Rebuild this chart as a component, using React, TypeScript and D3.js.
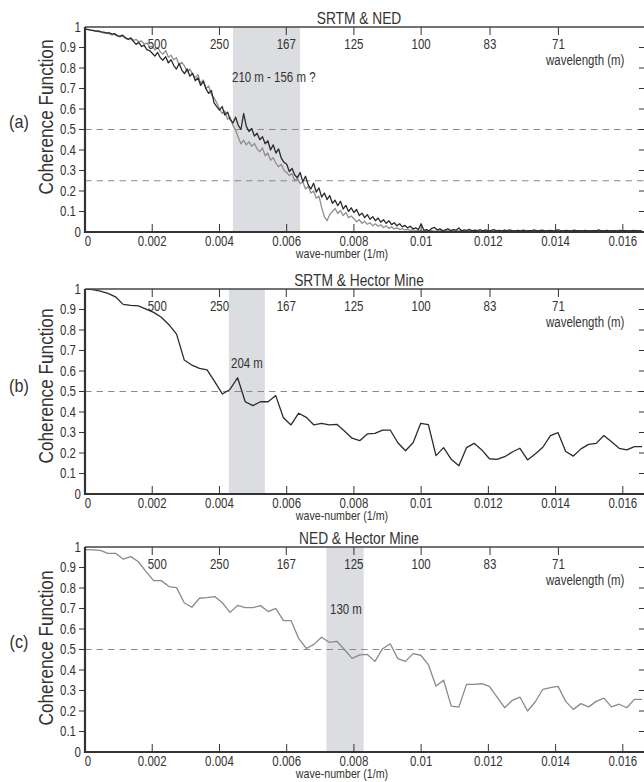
import * as d3 from 'd3';

// wave-number sampling (1/m)
const stepNed = 0.00008;
const stepHector = 0.000227;

// (a) SRTM & NED, two coherence estimates
const srtmNedDark = [
  0.99, 0.988, 0.985, 0.984, 0.98, 0.981, 0.976, 0.975, 0.97, 0.972, 0.965, 0.968, 0.958, 0.955, 0.96, 0.948, 0.94, 0.945, 0.93, 0.915, 0.925, 0.905, 0.91, 0.89, 0.885,
  0.872, 0.858, 0.876, 0.85, 0.838, 0.855, 0.825, 0.84, 0.812, 0.795, 0.822, 0.79, 0.772, 0.796, 0.76, 0.775, 0.738, 0.752, 0.715, 0.735, 0.698, 0.676, 0.69, 0.63, 0.612,
  0.595, 0.612, 0.57, 0.585, 0.548, 0.532, 0.56, 0.52, 0.5, 0.578, 0.515, 0.49, 0.505, 0.468, 0.482, 0.45, 0.465, 0.43, 0.445, 0.4, 0.425, 0.385, 0.405, 0.36, 0.34,
  0.33, 0.295, 0.31, 0.278, 0.265, 0.29, 0.245, 0.272, 0.23, 0.21, 0.238, 0.195, 0.215, 0.17, 0.19, 0.158, 0.178, 0.14, 0.155, 0.128, 0.15, 0.112, 0.13, 0.1, 0.118,
  0.095, 0.11, 0.08, 0.092, 0.07, 0.085, 0.062, 0.075, 0.055, 0.068, 0.048, 0.06, 0.042, 0.055, 0.036, 0.045, 0.03, 0.04, 0.025, 0.032, 0.02, 0.028, 0.015, 0.02, 0.012,
  0.04, 0.008, 0.012, 0.006, 0.018, 0.022, 0.01, 0.016, 0.006, 0.01, 0.015, 0.007, 0.012, 0.009, 0.02, 0.006, 0.01, 0.008, 0.013, 0.005,
  0.009, 0.007, 0.011, 0.006, 0.01, 0.005, 0.008, 0.012, 0.006, 0.008, 0.005, 0.009, 0.007, 0.01, 0.006, 0.005, 0.008, 0.006, 0.009, 0.005,
  0.007, 0.006, 0.01, 0.005, 0.007, 0.009, 0.005, 0.006, 0.008, 0.005, 0.007, 0.011, 0.006, 0.005, 0.008, 0.006, 0.005, 0.009, 0.006, 0.007,
  0.005, 0.008, 0.006, 0.005, 0.007, 0.006, 0.01, 0.005, 0.006, 0.008, 0.005, 0.007, 0.006, 0.005, 0.008, 0.006, 0.007, 0.005, 0.006, 0.008, 0.006, 0.005, 0.007,
];
const srtmNedGray = [
  0.99, 0.987, 0.986, 0.982, 0.98, 0.977, 0.975, 0.97, 0.972, 0.966, 0.962, 0.964, 0.956, 0.952, 0.955, 0.946, 0.94, 0.948, 0.935, 0.94, 0.928, 0.932, 0.915, 0.922, 0.905,
  0.905, 0.888, 0.9, 0.878, 0.868, 0.885, 0.852, 0.862, 0.84, 0.85, 0.815, 0.828, 0.81, 0.78, 0.795, 0.77, 0.752, 0.768, 0.725, 0.742, 0.7, 0.712, 0.67, 0.655, 0.63,
  0.6, 0.578, 0.59, 0.55, 0.56, 0.52, 0.498, 0.462, 0.43, 0.448, 0.425, 0.44, 0.418, 0.432, 0.405, 0.392, 0.41, 0.372, 0.385, 0.35, 0.362, 0.335, 0.318, 0.33, 0.3,
  0.29, 0.275, 0.285, 0.25, 0.262, 0.235, 0.245, 0.21, 0.222, 0.19, 0.2, 0.165, 0.175, 0.12, 0.075, 0.055, 0.085, 0.1, 0.115, 0.09, 0.105, 0.08, 0.095, 0.07, 0.078,
  0.065, 0.05, 0.06, 0.042, 0.052, 0.038, 0.045, 0.03, 0.04, 0.028, 0.035, 0.022, 0.03, 0.018, 0.025, 0.015, 0.02, 0.012, 0.016, 0.01, 0.013, 0.008, 0.011, 0.006, 0.008,
  0.006, 0.004, 0.008, 0.005, 0.007, 0.004, 0.006, 0.009, 0.004, 0.006, 0.005, 0.007, 0.004, 0.006, 0.005, 0.008, 0.004, 0.005, 0.007, 0.004,
  0.006, 0.005, 0.004, 0.007, 0.005, 0.006, 0.004, 0.005, 0.008, 0.004, 0.006, 0.005, 0.004, 0.007, 0.005, 0.004, 0.006, 0.005, 0.007, 0.004,
  0.005, 0.006, 0.004, 0.008, 0.005, 0.004, 0.006, 0.005, 0.004, 0.007, 0.005, 0.006, 0.004, 0.005, 0.007, 0.004, 0.006, 0.005, 0.004, 0.006,
  0.005, 0.007, 0.004, 0.005, 0.006, 0.004, 0.005, 0.007, 0.004, 0.006, 0.005, 0.004, 0.006, 0.005, 0.007, 0.004, 0.005, 0.006, 0.004, 0.005, 0.006, 0.004, 0.005,
];

// (b) SRTM & Hector Mine
const srtmHector = [
  1.0, 0.997, 0.99, 0.979, 0.962, 0.925, 0.92, 0.918, 0.902, 0.886, 0.862, 0.826, 0.78, 0.654, 0.629, 0.613, 0.605, 0.548, 0.488, 0.51,
  0.567, 0.45, 0.431, 0.45, 0.45, 0.48, 0.372, 0.337, 0.394, 0.374, 0.337, 0.345, 0.337, 0.34, 0.307, 0.272, 0.26, 0.293, 0.296, 0.312,
  0.312, 0.25, 0.211, 0.25, 0.345, 0.338, 0.187, 0.226, 0.169, 0.138, 0.226, 0.247, 0.215, 0.172, 0.169, 0.182, 0.205, 0.223, 0.166, 0.195,
  0.228, 0.285, 0.299, 0.207, 0.185, 0.22, 0.242, 0.247, 0.285, 0.255, 0.223, 0.215, 0.231, 0.231,
];

// (c) NED & Hector Mine
const nedHector = [
  0.987, 0.986, 0.984, 0.969, 0.969, 0.941, 0.953, 0.928, 0.88, 0.836, 0.836, 0.807, 0.802, 0.728, 0.706, 0.75, 0.753, 0.758, 0.728, 0.681,
  0.715, 0.704, 0.704, 0.714, 0.685, 0.701, 0.641, 0.641, 0.554, 0.505, 0.525, 0.56, 0.535, 0.54, 0.5, 0.457, 0.474, 0.476, 0.442, 0.504,
  0.528, 0.455, 0.442, 0.48, 0.472, 0.426, 0.322, 0.35, 0.224, 0.219, 0.33, 0.33, 0.333, 0.32, 0.268, 0.216, 0.252, 0.268, 0.2, 0.244,
  0.306, 0.314, 0.32, 0.247, 0.208, 0.236, 0.22, 0.247, 0.263, 0.22, 0.233, 0.216, 0.257, 0.257,
];

const waveNumberTicks = [0, 0.002, 0.004, 0.006, 0.008, 0.01, 0.012, 0.014, 0.016];
const wavelengthTicks = [500, 250, 167, 125, 100, 83, 71];
const coherenceTicks = [0, 0.1, 0.2, 0.3, 0.4, 0.5, 0.6, 0.7, 0.8, 0.9, 1];

const bandA = [0.0044, 0.0064];
const bandB = [0.00428, 0.00535];
const bandC = [0.00718, 0.00829];

const FONT = "'Liberation Sans', Arial, Helvetica, sans-serif";
const INK = '#333';
const W = 644;
const H = 782;
const left = 85;
const right = 644;
const plotH = 205;
const maxK = 0.01663;

const panels = [
  {
    id: 'a', top: 27, title: 'SRTM & NED', band: bandA, refs: [0.5, 0.25],
    note: '210 m - 156 m ?', noteX: 232, noteDy: 55, labelY: 117, tagY: 122,
    series: [
      { values: srtmNedGray, step: stepNed, color: '#8f8f8f' },
      { values: srtmNedDark, step: stepNed, color: '#2b2b2b' },
    ],
  },
  {
    id: 'b', top: 289, title: 'SRTM & Hector Mine', band: bandB, refs: [0.5],
    note: '204 m', noteX: 231, noteDy: 79, labelY: 386, tagY: 386,
    series: [{ values: srtmHector, step: stepHector, color: '#2b2b2b' }],
  },
  {
    id: 'c', top: 547, title: 'NED & Hector Mine', band: bandC, refs: [0.5],
    note: '130 m', noteX: 330, noteDy: 67, labelY: 648, tagY: 642,
    series: [{ values: nedHector, step: stepHector, color: '#8a8a8a' }],
  },
];

const x = d3.scaleLinear().domain([0, maxK]).range([left, right]);
const fmt = d3.format('~g');

// condensed text, like the original Helvetica Narrow
function T({ x, y, size = 14, anchor = 'start', rotate = 0, dy = undefined, sx = 0.82, children }) {
  return (
    <text
      transform={`translate(${x},${y}) rotate(${rotate}) scale(${sx},1)`}
      textAnchor={anchor}
      fontSize={size}
      dy={dy}
      fill={INK}
    >
      {children}
    </text>
  );
}

function Panel({ p }) {
  const y = d3.scaleLinear().domain([0, 1]).range([p.top + plotH, p.top]);
  const line = (step) =>
    d3.line<number>().x((_, i) => x(i * step)).y((v) => y(v));
  const bottom = p.top + plotH;
  return (
    <g>
      <defs>
        <clipPath id={`clip-${p.id}`}>
          <rect x={left} y={p.top} width={right - left} height={plotH} />
        </clipPath>
      </defs>
      <rect x={x(p.band[0])} y={p.top} width={x(p.band[1]) - x(p.band[0])} height={plotH} fill="#dcdde0" />
      {p.refs.map((r) => (
        <line key={r} x1={left} x2={right} y1={y(r)} y2={y(r)} stroke="#8a8a8a" strokeWidth={1.2} strokeDasharray="6.5,5" />
      ))}
      <g clipPath={`url(#clip-${p.id})`}>
        {p.series.map((s, k) => (
          <path key={k} d={line(s.step)(s.values) || ''} fill="none" stroke={s.color} strokeWidth={1.3} strokeLinejoin="round" />
        ))}
      </g>
      {/* frame */}
      <line x1={left} x2={right} y1={p.top} y2={p.top} stroke="#444" strokeWidth={1.4} />
      <line x1={left} x2={right} y1={bottom} y2={bottom} stroke={INK} strokeWidth={2.2} />
      <line x1={left} x2={left} y1={p.top} y2={bottom + 1} stroke={INK} strokeWidth={2.2} />
      {/* coherence ticks */}
      {coherenceTicks.map((t) => {
        const inner = t > 0 && t < 1;
        return (
          <g key={t}>
            {inner && <line x1={left - 6} x2={left} y1={y(t)} y2={y(t)} stroke={INK} strokeWidth={1} />}
            {inner && <line x1={right - 5} x2={right} y1={y(t)} y2={y(t)} stroke={INK} strokeWidth={1} />}
            <T x={inner ? left - 9 : left - 4} y={y(t)} dy="0.35em" anchor="end">{fmt(t)}</T>
          </g>
        );
      })}
      {/* wave-number ticks */}
      {waveNumberTicks.map((t) => (
        <g key={t}>
          {t > 0 && <line x1={x(t)} x2={x(t)} y1={bottom} y2={bottom - 8} stroke={INK} strokeWidth={1} />}
          <T x={t === 0 ? x(t) + 3 : x(t)} y={bottom + 14} anchor="middle">{fmt(t)}</T>
        </g>
      ))}
      {/* wavelength ticks along the top */}
      {wavelengthTicks.map((w, i) => (
        <g key={w}>
          <line x1={x(1 / w)} x2={x(1 / w)} y1={p.top} y2={p.top + 8} stroke={INK} strokeWidth={1} />
          <T x={x(1 / w) + (i === 0 ? 5 : 0)} y={p.top + 22} anchor="middle">{w}</T>
        </g>
      ))}
      <T x={546} y={p.top + 38}>wavelength (m)</T>
      <T x={359} y={p.top - 3} size={16} anchor="middle" sx={0.86}>{p.title}</T>
      <T x={p.noteX} y={p.top + p.noteDy}>{p.note}</T>
      <T x={342} y={bottom + 26} size={13} anchor="middle">wave-number (1/m)</T>
      <T x={53} y={p.labelY} size={21} anchor="middle" rotate={-90}>Coherence Function</T>
      <T x={19} y={p.tagY} size={18} anchor="middle" dy="0.35em" sx={0.9}>({p.id})</T>
    </g>
  );
}

export default function App() {
  return (
    <svg width={W} height={H} style={{ position: 'absolute', left: 0, top: 0, background: '#fff', fontFamily: FONT }}>
      {panels.map((p) => (
        <Panel key={p.id} p={p} />
      ))}
    </svg>
  );
}
